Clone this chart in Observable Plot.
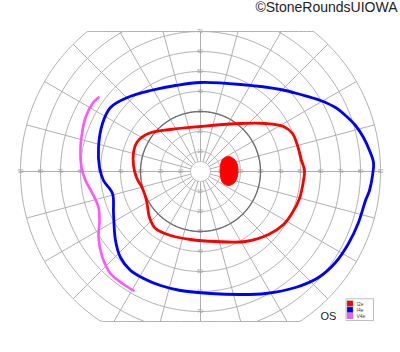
<!DOCTYPE html>
<html>
<head>
<meta charset="utf-8">
<script src="https://cdn.jsdelivr.net/npm/d3@7"></script>
<script src="https://cdn.jsdelivr.net/npm/@observablehq/plot@0.6"></script>
<style>
  html, body { margin: 0; padding: 0; background: #fff; }
</style>
</head>
<body>
<div id="chart"></div>
<script>
// ---- Data (degrees of visual field: x = horizontal, y = vertical) ----
const ringRadii = [5, 10, 20, 30, 40, 50, 60, 70, 80, 90];
const darkRing = 30;
const spokeStep = 15;
const clipTop = 70;
const clipBottom = -75;
const hTicks = [10, 20, 30, 40, 50, 60, 70, 80, 90];
const vTicks = [10, 20, 30, 40, 50, 60, 70];

const isoI4e = [
  [0, 44.5], [20, 43.5], [40, 41], [50, 38.5], [60, 35.5], [67.5, 32], [72.5, 28],
  [77.5, 23], [81.5, 17], [84.5, 10.5], [86.5, 4.5], [86, -2], [84.5, -9.5],
  [82.5, -14.5], [79, -25.5], [74, -36], [67.5, -45.5], [59, -53], [47.5, -58],
  [32.5, -61], [20, -61.5], [5, -61], [-10, -59.5], [-20, -57], [-28.5, -53.5],
  [-35, -49.5], [-40, -43], [-42.5, -34.5], [-43.5, -21], [-44, -11], [-48.5, -4.5],
  [-50.5, 2], [-51, 12], [-49, 24], [-45, 32], [-36.5, 37], [-25, 40.5], [-12.5, 43]
];
const isoI2e = [
  [0, 22.5], [20, 24], [32.5, 24], [41.5, 22.5], [46, 19], [48.5, 13], [50.5, 5.5],
  [52, 0.5], [51.5, -4.5], [49.5, -13.5], [46, -20.5], [41.5, -26.5], [34, -31.5],
  [22.5, -35], [7.5, -35], [-5, -34], [-15, -32], [-22.5, -28.5], [-25.5, -23],
  [-27, -14.5], [-29, -8.5], [-32, -3], [-33.5, 3], [-33.5, 9.5], [-31.5, 15],
  [-26, 19], [-15, 21]
];
const isoV4e = [
  [-51, 37], [-54, 34], [-57.5, 27], [-59, 20.5], [-60, 12], [-59.5, 2], [-57.5, -4.5],
  [-54, -11], [-51, -18], [-50.5, -24.5], [-51, -33], [-49, -43], [-45, -51],
  [-39, -56], [-33.5, -59.5]
];
const blindSpot = [
  [14, 7.5], [17, 6], [18.5, 3], [18.5, -2], [17, -5.5], [14, -7], [11, -5.5],
  [10, -2], [10, 3], [11, 6]
];
const legendLabels = ["I2e", "I4e", "V4e"];
const legendColors = ["#ff0000", "#0000ff", "#ff55ff"];
const eyeLabel = "OS";
const credit = "\u00A9StoneRoundsUIOWA";

// ---- Grid geometry built from the ring / spoke definitions ----
const rad = d => d * Math.PI / 180;
const ringPts = [];
for (const r of ringRadii) {
  for (let a = 0; a <= 360; a += 1) {
    let x = r * Math.cos(rad(a)), y = r * Math.sin(rad(a));
    if (r === 90) {
      y = Math.max(clipBottom, Math.min(clipTop, y));
    } else if (y > clipTop || y < clipBottom) {
      ringPts.push({r, x: NaN, y: NaN});
      continue;
    }
    ringPts.push({r, x, y});
  }
}
const darkPts = [];
for (let a = 0; a <= 360; a += 1) darkPts.push({x: darkRing * Math.cos(rad(a)), y: darkRing * Math.sin(rad(a))});

const spokes = d3.range(0, 360, spokeStep).map(a => {
  const s = Math.sin(rad(a)), c = Math.cos(rad(a));
  let R = 90;
  if (s > 1e-9) R = Math.min(R, clipTop / s);
  if (s < -1e-9) R = Math.min(R, clipBottom / s);
  const r0 = ringRadii[0];
  return {x1: r0 * c, y1: r0 * s, x2: R * c, y2: R * s};
});

const hLabels = hTicks.flatMap(t => [{x: -t, y: 0, t}, {x: t, y: 0, t}]);
const vLabels = vTicks.flatMap(t => [{x: 0, y: t, t, dy: t === 70 ? 3 : -1}, {x: 0, y: -t, t, dy: 2}]);

const toObj = arr => arr.map(([x, y]) => ({x, y}));
const legendRows = legendLabels.map((label, i) => ({label, color: legendColors[i], i}));

const legX = 73.5, legY = -66.3, legStep = 3.1;

const chart = Plot.plot({
  width: 400,
  height: 352,
  margin: 0,
  x: {domain: [-100, 100], axis: null},
  y: {domain: [-90.5, 85.5], axis: null},
  style: {fontFamily: "'Liberation Sans', Arial, sans-serif", background: "#fff"},
  marks: [
    Plot.line(ringPts, {x: "x", y: "y", z: "r", stroke: "#b0b0b0", strokeWidth: 1}),
    Plot.link(spokes, {x1: "x1", y1: "y1", x2: "x2", y2: "y2", stroke: "#b0b0b0", strokeWidth: 1}),
    Plot.text(hLabels, {x: "x", y: "y", text: "t", fontSize: 5, fill: "#9a9a9a"}),
    Plot.text(vLabels, {x: "x", y: "y", text: "t", dy: "dy", fontSize: 5, fill: "#9a9a9a"}),
    Plot.line(darkPts, {x: "x", y: "y", stroke: "#6e6e6e", strokeWidth: 1.3}),
    Plot.line(toObj(isoV4e), {x: "x", y: "y", stroke: legendColors[2], strokeWidth: 2.6, curve: "catmull-rom"}),
    Plot.line(toObj(isoI4e), {x: "x", y: "y", stroke: legendColors[1], strokeWidth: 2.8, curve: "catmull-rom-closed"}),
    Plot.line(toObj(isoI2e), {x: "x", y: "y", stroke: legendColors[0], strokeWidth: 2.8, curve: "catmull-rom-closed"}),
    Plot.line(toObj(blindSpot), {x: "x", y: "y", stroke: legendColors[0], fill: legendColors[0], strokeWidth: 1, curve: "catmull-rom-closed"}),
    // legend
    Plot.rect([0], {x1: legX - 0.5, x2: legX + 13.2, y1: legY + 2.4, y2: legY - legStep * 2 - 2.2, fill: "#fff", stroke: "#b0b0b0", strokeWidth: 0.8}),
    Plot.rect(legendRows, {x1: legX, x2: legX + 3, y1: d => legY - d.i * legStep + 1.4, y2: d => legY - d.i * legStep - 1.4, fill: "color", stroke: "#888", strokeWidth: 0.4}),
    Plot.text(legendRows, {x: legX + 4.5, y: d => legY - d.i * legStep, text: "label", textAnchor: "start", fontSize: 5, fill: "#444"}),
    Plot.text([eyeLabel], {x: 64, y: -72.5, text: d => d, fontSize: 11, fill: "#222"}),
    Plot.text([credit], {x: 98.5, y: 81.8, text: d => d, textAnchor: "end", fontSize: 14, fill: "#222"})
  ]
});
document.getElementById("chart").appendChild(chart);
</script>
</body>
</html>
